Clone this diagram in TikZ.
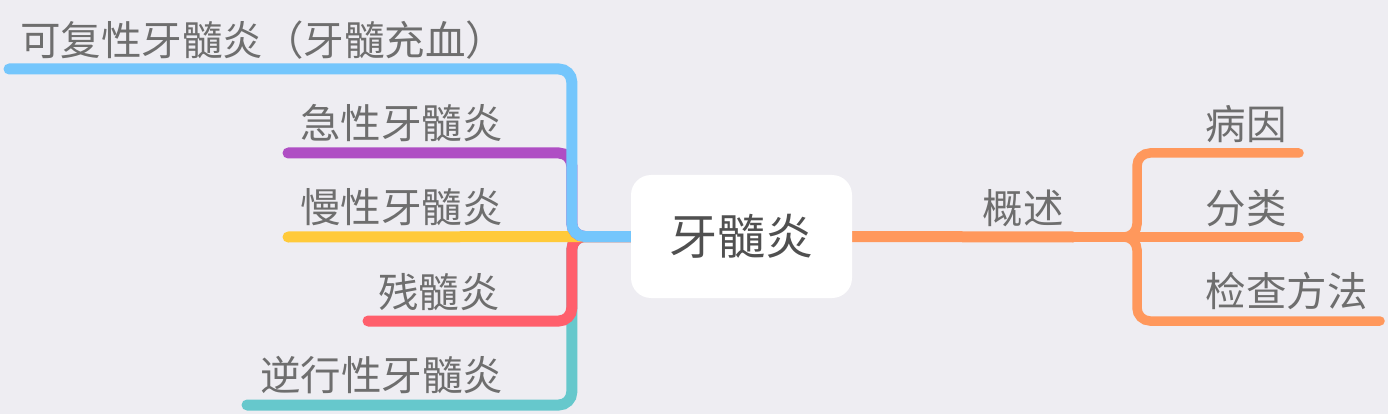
\documentclass[tikz,border=0pt]{standalone}
\usepackage{fontspec}
\newfontfamily\cjk{Noto Sans CJK SC}
\usetikzlibrary{backgrounds}
\definecolor{bg}{RGB}{238,237,242}
\definecolor{cblue}{RGB}{116,198,252}
\definecolor{cpurple}{RGB}{175,78,196}
\definecolor{cyellow}{RGB}{255,202,58}
\definecolor{cred}{RGB}{255,95,108}
\definecolor{cteal}{RGB}{102,200,204}
\definecolor{corange}{RGB}{255,152,92}
\definecolor{labelgray}{RGB}{110,110,110}
\definecolor{rootgray}{RGB}{80,80,80}
\begin{document}
\begin{tikzpicture}[x=1pt,y=-1pt,
  br/.style={line width=11pt, line cap=round, rounded corners=13pt},
  sub/.style={line width=9.5pt, line cap=round, rounded corners=13pt, corange},
  lbl/.style={font=\cjk\fontsize{40.5}{40.5}\selectfont, text=labelgray, inner sep=0pt},
  rootbox/.style={fill=white, rounded corners=20pt, minimum width=221pt, minimum height=123pt, inner sep=0pt,
    font=\cjk\fontsize{48}{48}\selectfont, text=rootgray}
]
\useasboundingbox (0,0) rectangle (1388,414);
\node[rootbox] (root) at (741.5,236.5) {牙髓炎};

% end points
\coordinate (e1) at (9,69);
\coordinate (e2) at (288,153);
\coordinate (e3) at (288,237);
\coordinate (e4) at (368,321);
\coordinate (e5) at (247,405);
\coordinate (c1) at (1073,237);
\coordinate (r1) at (1299,153);
\coordinate (r2) at (1299,237);
\coordinate (r3) at (1380,321);

\begin{scope}[on background layer]
\fill[bg] (0,0) rectangle (1388,414);
\draw[br, cteal] (root.west) -- ++(-59,0) |- (e5);
\draw[br, cred] (root.west) -- ++(-59,0) |- (e4);
\draw[br, cyellow] (root.west) -- (e3);
\draw[br, cpurple] (root.west) -- ++(-59,0) |- (e2);
\draw[br, cblue] (root.west) -- ++(-59,0) |- (e1);
\draw[br, corange] (root.east) -- (c1);
\draw[sub] (c1) -- ++(64,0) |- (r1);
\draw[sub] (c1) -- (r2);
\draw[sub] (c1) -- ++(64,0) |- (r3);
\end{scope}

\node[lbl, anchor=base west] (t1) at (20,55.5) {可复性牙髓炎（牙髓充血）};
\node[lbl, anchor=base west] (t2) at (300,138.5) {急性牙髓炎};
\node[lbl, anchor=base west] (t3) at (300,222.5) {慢性牙髓炎};
\node[lbl, anchor=base west] (t4) at (378,307.5) {残髓炎};
\node[lbl, anchor=base west] (t5) at (260,390.5) {逆行性牙髓炎};
\node[lbl, anchor=base east] (s0) at (1064,223.5) {概述};
\node[lbl, anchor=base east] (s1) at (1287,139.5) {病因};
\node[lbl, anchor=base east] (s2) at (1287,223.5) {分类};
\node[lbl, anchor=base east] (s3) at (1368,306.5) {检查方法};
\end{tikzpicture}
\end{document}
